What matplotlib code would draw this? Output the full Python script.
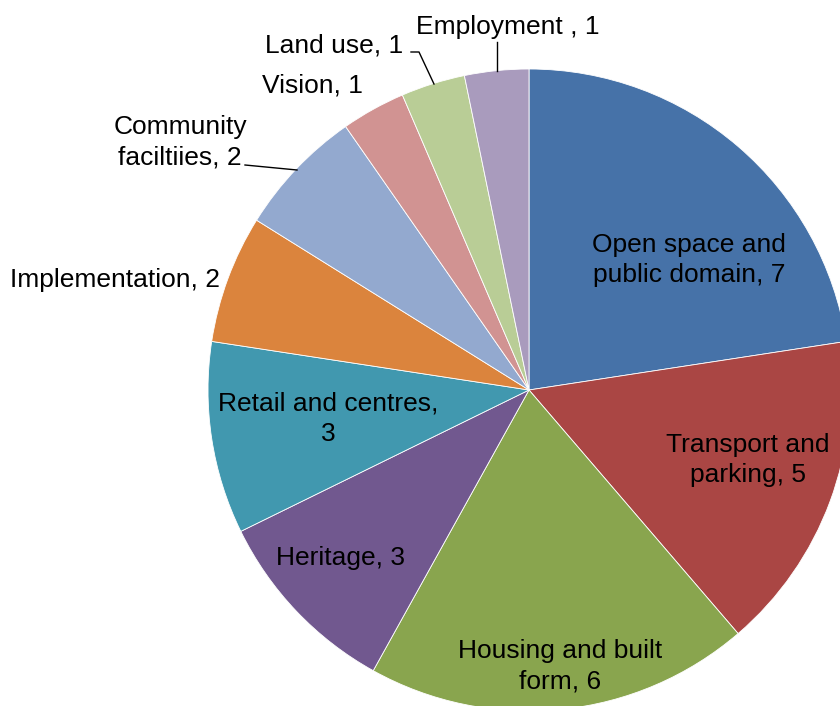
import matplotlib
matplotlib.use("Agg")
import matplotlib.pyplot as plt

categories = ["Open space and\npublic domain", "Transport and\nparking", "Housing and built\nform",
              "Heritage", "Retail and centres,\n", "Implementation", "Community\nfaciltiies",
              "Vision", "Land use", "Employment "]
values = [7, 5, 6, 3, 3, 2, 2, 1, 1, 1]
colors = ["#4672A8", "#AA4644", "#89A54E", "#71588F", "#4198AF", "#DB843D",
          "#93A9CF", "#D19392", "#B9CD96", "#A99BBD"]

W, H = 840, 706
CX, CY, R = 529, 390, 321

def d(px, py):
    return ((px - CX) / R, (CY - py) / R)

plt.rcParams['font.family'] = ['Liberation Sans', 'DejaVu Sans']
fig = plt.figure(figsize=(W / 100, H / 100), dpi=100)
ax = fig.add_axes([0, 0, 1, 1])
ax.pie(values, colors=colors, startangle=90, counterclock=False, radius=1,
       center=(0, 0), wedgeprops=dict(edgecolor="white", linewidth=0.6))
ax.set_xlim(-CX / R, (W - CX) / R)
ax.set_ylim((CY - H) / R, CY / R)
ax.set_aspect('auto')
ax.axis('off')

label_pos = [(689, 260), (748, 460), (560, 666), (341, 558), (328, 419),
             (115, 280), (180, 142), (312, 85), (334, 45), (508, 27)]
fs = 19
for cat, v, (px, py) in zip(categories, values, label_pos):
    if cat.endswith(",\n"):
        txt = f"{cat}{v}"
    else:
        txt = f"{cat}, {v}"
    x, y = d(px, py)
    ax.text(x, y, txt, ha="center", va="center", fontsize=fs, color="black",
            linespacing=1.32)

leaders = [[(245, 165), (297, 170)],
           [(411, 52), (419, 52), (434, 84)],
           [(497, 42), (497, 71)]]
for pts in leaders:
    xs = [d(*p)[0] for p in pts]
    ys = [d(*p)[1] for p in pts]
    ax.plot(xs, ys, color="black", linewidth=1.0)

fig.savefig("out.png", dpi=100)
